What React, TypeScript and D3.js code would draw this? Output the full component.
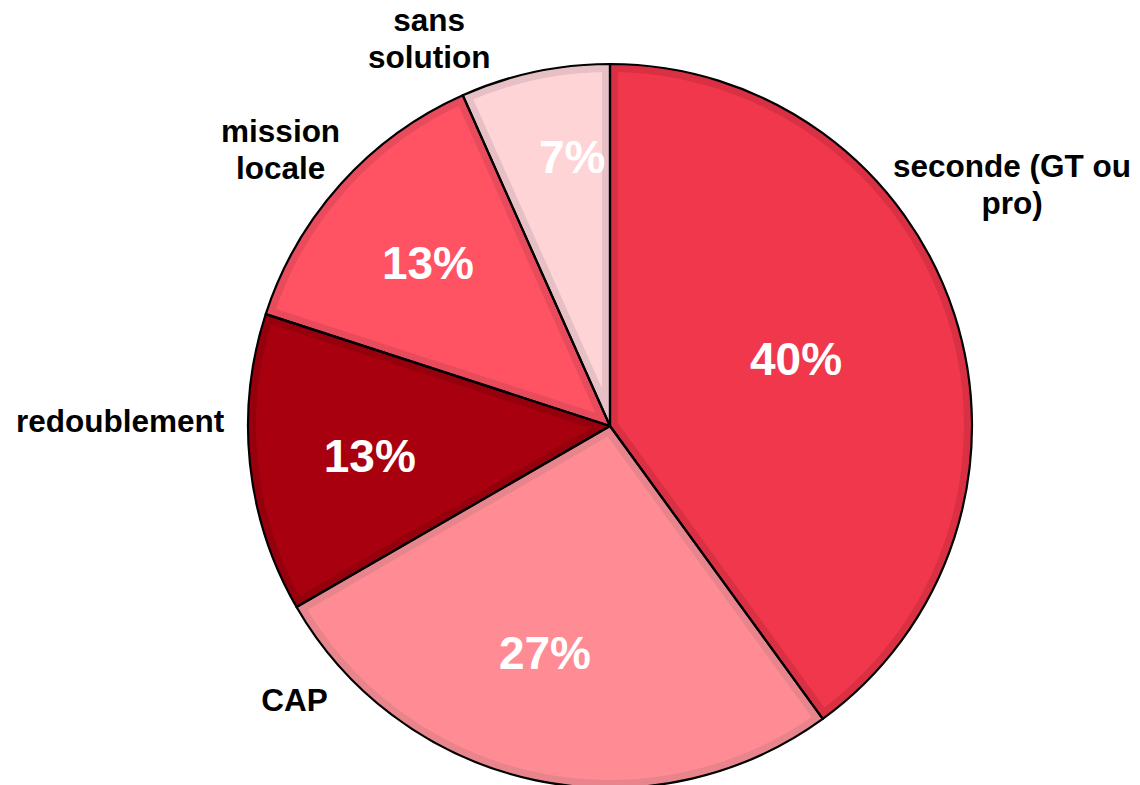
import React from "react";
import * as d3 from "d3";

const categories = ["seconde (GT ou pro)", "CAP", "redoublement", "mission locale", "sans solution"];
const values = [6, 4, 2, 2, 1];
const percentLabels = ["40%", "27%", "13%", "13%", "7%"];
const fills = ["#F0374B", "#FF8C94", "#A8000F", "#FF5263", "#FFD4D7"];
const bands = ["#DA3043", "#E8848C", "#96000D", "#E84C5C", "#E6C0C4"];
const outerLines = [["seconde (GT ou", "pro)"], ["CAP"], ["redoublement"], ["mission", "locale"], ["sans", "solution"]];
// label placement (polar around pie centre): angle offset in degrees, radius
const innerPos = [
  { a: -2, r: 198 },
  { a: 4, r: 236 },
  { a: -1, r: 242 },
  { a: 0, r: 245 },
  { a: 4, r: 272 },
];
const outerPos = [
  { a: -13, r: 469 },
  { a: 37, r: 418 },
  { a: 6.6, r: 490 },
  { a: -2, r: 430 },
  { a: -13, r: 428 },
];

const W = 1140;
const H = 785;
const cx = 610;
const cy = 426;
const R = 362;

export default function App() {
  const pie = d3.pie<number>().sort(null).value((d) => d);
  const arcs = pie(values);
  const arc = d3.arc<d3.PieArcDatum<number>>().innerRadius(0).outerRadius(R);
  const polar = (deg: number, r: number) => {
    const t = (deg * Math.PI) / 180;
    return [Math.sin(t) * r, -Math.cos(t) * r];
  };
  const font = "'Liberation Sans', Arial, sans-serif";
  return (
    <svg width={W} height={H} style={{ position: "absolute", left: 0, top: 0, background: "#fff" }}>
      <defs>
        {arcs.map((a, i) => (
          <clipPath id={`clip${i}`} key={i}>
            <path d={arc(a) || ""} />
          </clipPath>
        ))}
      </defs>
      <g transform={`translate(${cx},${cy})`}>
        {arcs.map((a, i) => (
          <g key={i}>
            <path d={arc(a) || ""} fill={fills[i]} />
            <path d={arc(a) || ""} fill="none" stroke={bands[i]} strokeWidth={16} clipPath={`url(#clip${i})`} />
          </g>
        ))}
        {arcs.map((a, i) => (
          <path key={i} d={arc(a) || ""} fill="none" stroke="#000" strokeWidth={2.2} strokeLinejoin="round" />
        ))}
        {arcs.map((a, i) => {
          const mid = (((a.startAngle + a.endAngle) / 2) * 180) / Math.PI;
          const [x, y] = polar(mid + innerPos[i].a, innerPos[i].r);
          return (
            <text key={i} x={x} y={y} dy="0.36em" textAnchor="middle" fill="#fff" fontFamily={font} fontWeight="bold" fontSize={46}>
              {percentLabels[i]}
            </text>
          );
        })}
        {arcs.map((a, i) => {
          const mid = (((a.startAngle + a.endAngle) / 2) * 180) / Math.PI;
          const [x, y] = polar(mid + outerPos[i].a, outerPos[i].r);
          const lines = outerLines[i];
          const lh = 37;
          const y0 = y - ((lines.length - 1) * lh) / 2;
          return (
            <text key={i} textAnchor="middle" fill="#000" fontFamily={font} fontWeight="bold" fontSize={31.5}>
              {lines.map((l, j) => (
                <tspan key={j} x={x} y={y0 + j * lh} dy="0.35em">
                  {l}
                </tspan>
              ))}
            </text>
          );
        })}
      </g>
    </svg>
  );
}
